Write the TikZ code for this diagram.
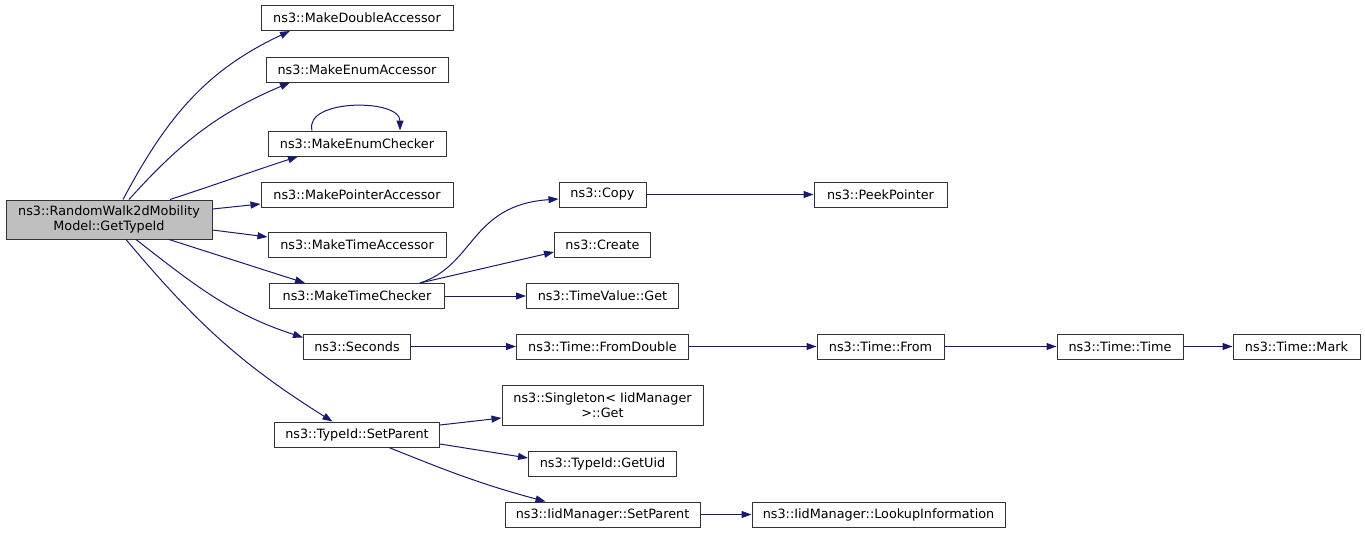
\documentclass[tikz,border=0pt]{standalone}
\usepackage{fontspec}
\setmainfont{DejaVu Sans}
\usetikzlibrary{arrows.meta}
\definecolor{edgeblue}{HTML}{191970}
\definecolor{rootgray}{HTML}{BFBFBF}

\begin{document}
\begin{tikzpicture}[
    x=1pt, y=-1pt,
    fn/.style={draw=black!80, line width=1pt, fill=white, minimum height=25pt,
        inner sep=0pt, align=center, font=\fontsize{12.8}{14.5}\selectfont},
    call/.style={->, draw=edgeblue, line width=1pt},
    >={Triangle[length=10pt,width=7pt]}
]
\useasboundingbox (0,0) rectangle (1365,533);

% Caller
\node[fn, fill=rootgray, minimum width=206pt, minimum height=39pt] (R) at (109,219.5)
    {ns3::RandomWalk2dMobility\\Model::GetTypeId};

% First column
\foreach \i/\y/\w/\txt in {1/18/192/MakeDoubleAccessor, 2/69.5/182/MakeEnumAccessor,
    3/143.5/178/MakeEnumChecker, 4/194.5/192/MakePointerAccessor,
    5/245/178/MakeTimeAccessor, 6/296/175/MakeTimeChecker,
    7/346.5/107/Seconds, 8/434.5/165/TypeId::SetParent} {
    \node[fn, minimum width=\w pt] (C1\i) at (357,\y) {ns3::\txt};
}

% Second column
\foreach \i/\y/\w/\txt in {1/194.5/87/Copy, 2/245/96/Create,
    3/296/152/TimeValue::Get, 4/346.5/172/Time::FromDouble,
    6/464/148/TypeId::GetUid, 7/514.5/195/IidManager::SetParent} {
    \node[fn, minimum width=\w pt] (C2\i) at (602.5,\y) {ns3::\txt};
}
\node[fn, minimum width=201pt, minimum height=40pt] (C25) at (602.5,405)
    {ns3::Singleton< IidManager\\>::Get};

% Third column and beyond
\node[fn, minimum width=133pt] (C31) at (880.5,194.5) {ns3::PeekPointer};
\node[fn, minimum width=127pt] (C32) at (880.5,346.5) {ns3::Time::From};
\node[fn, minimum width=253pt] (C33) at (878.5,514.5) {ns3::IidManager::LookupInformation};
\node[fn, minimum width=126pt] (C41) at (1120,346.5) {ns3::Time::Time};
\node[fn, minimum width=127pt] (C51) at (1296.5,346.5) {ns3::Time::Mark};

% Calls from GetTypeId
\draw[call] ([xshift=14pt]R.north) to[out=62, in=205] ([xshift=-67pt]C11.south);
\draw[call] ([xshift=20pt]R.north) to[out=48, in=203] ([xshift=-67pt]C12.south);
\draw[call] ([xshift=61pt]R.north) to[out=18, in=198] ([xshift=-59pt]C13.south);
\draw[call] ([yshift=10.5pt]R.east) -- ([yshift=-9.5pt]C14.west);
\draw[call] ([yshift=-10.5pt]R.east) -- ([yshift=8pt]C15.west);
\draw[call] ([xshift=60pt]R.south) -- ([xshift=-52pt]C16.north);
\draw[call] ([xshift=27pt]R.south) to[out=-38, in=162] ([yshift=9pt]C17.west);
\draw[call] ([xshift=17pt]R.south) to[out=-50, in=148] ([xshift=-24.5pt]C18.north);

% Recursive call
\draw[call] ([xshift=-45pt]C13.north) .. controls +(-8,-32) and +(0,-32) .. ([xshift=43pt]C13.north);

% Second level
\draw[call] ([xshift=63pt]C16.north) .. controls +(55,-18) and +(-88,6) .. ([yshift=-4.5pt]C21.west);
\draw[call] ([xshift=63pt]C16.north) -- ([yshift=-7pt]C22.west);
\draw[call] (C16) -- (C23);
\draw[call] (C17) -- (C24);
\draw[call] ([yshift=9.5pt]C18.east) -- ([yshift=-13pt]C25.west);
\draw[call] ([yshift=-9.5pt]C18.east) -- ([yshift=6pt]C26.west);
\draw[call] ([xshift=32pt]C18.south) to[out=-22, in=165] ([xshift=-57pt]C27.north);

% Chains to the right
\foreach \a/\b in {C21/C31, C24/C32, C32/C41, C41/C51, C27/C33} {
    \draw[call] (\a) -- (\b);
}
\end{tikzpicture}
\end{document}
